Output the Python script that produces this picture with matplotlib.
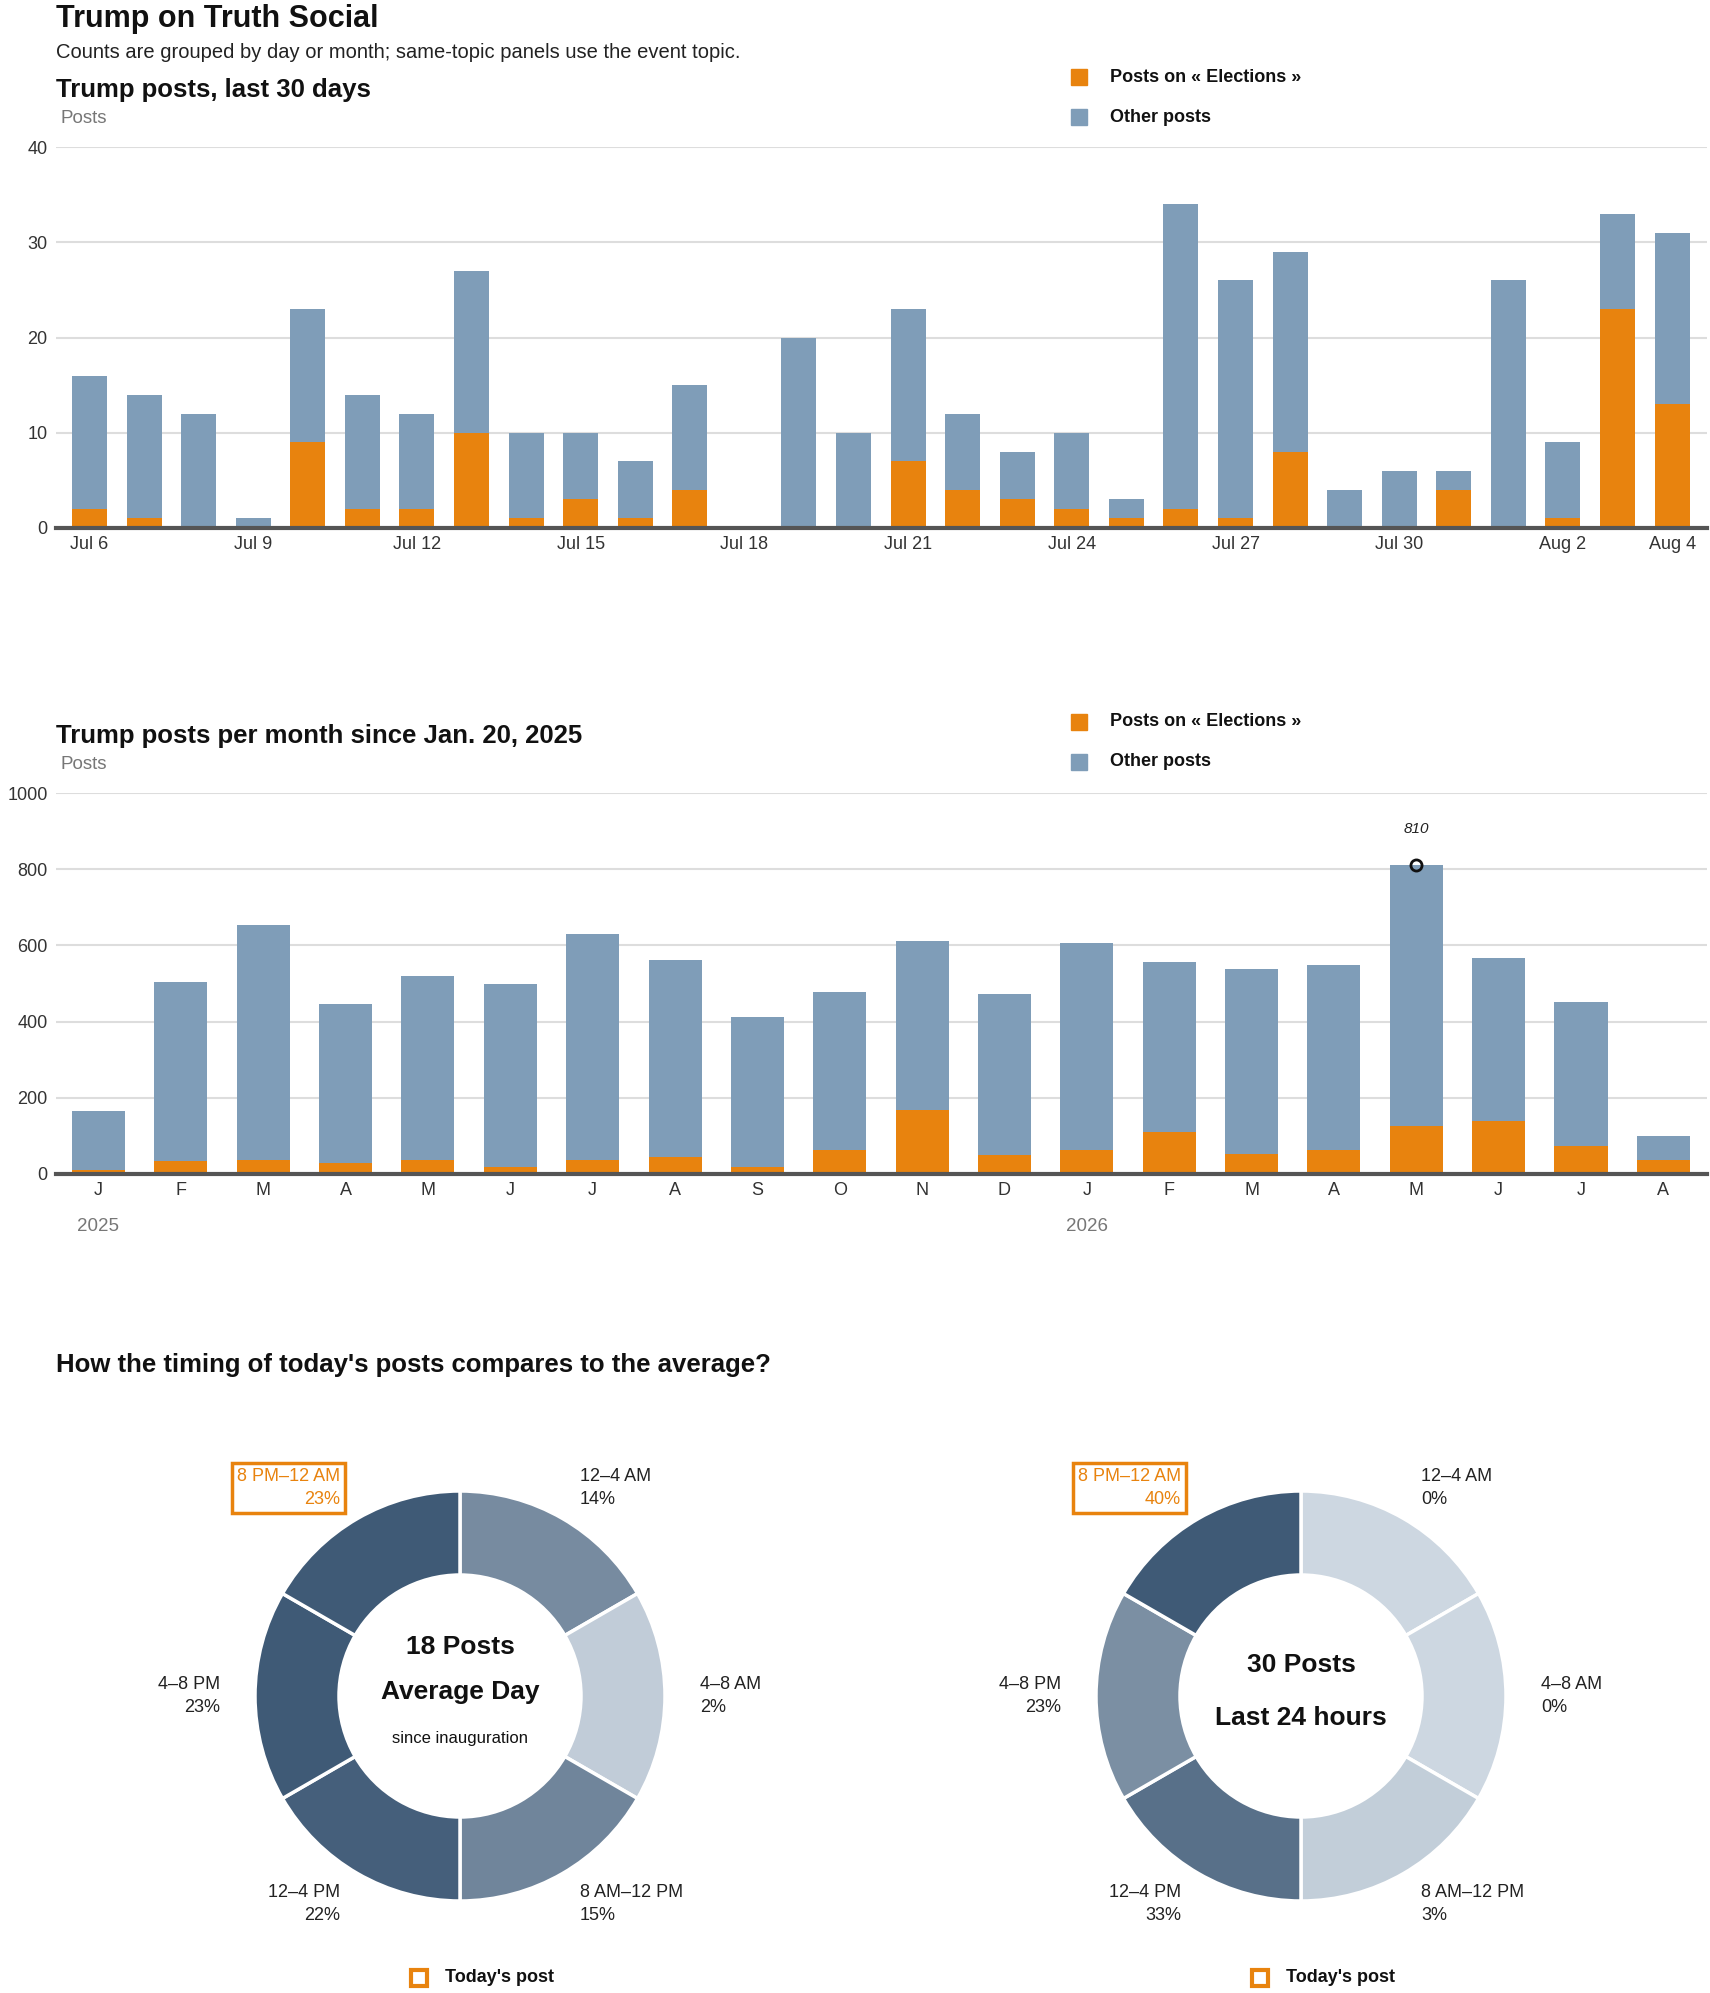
import numpy as np
import matplotlib
matplotlib.use('Agg')
import matplotlib.pyplot as plt
from matplotlib.patches import Rectangle
from matplotlib.colors import to_rgb

# --- Data ---
day_labels = ['Jul 6', 'Jul 9', 'Jul 12', 'Jul 15', 'Jul 18', 'Jul 21',
              'Jul 24', 'Jul 27', 'Jul 30', 'Aug 2', 'Aug 4']
day_label_idx = [0, 3, 6, 9, 12, 15, 18, 21, 24, 27, 29]
day_total = [16, 14, 12, 1, 23, 14, 12, 27, 10, 10, 7, 15, 0, 20, 10,
             23, 12, 8, 10, 3, 34, 26, 29, 4, 6, 6, 26, 9, 33, 31]
day_elect = [2, 1, 0, 0, 9, 2, 2, 10, 1, 3, 1, 4, 0, 0, 0,
             7, 4, 3, 2, 1, 2, 1, 8, 0, 0, 4, 0, 1, 23, 13]

month_labels = ['J', 'F', 'M', 'A', 'M', 'J', 'J', 'A', 'S', 'O', 'N', 'D',
                'J', 'F', 'M', 'A', 'M', 'J', 'J', 'A']
month_total = [165, 504, 654, 447, 520, 499, 630, 562, 412, 477, 612, 473,
               607, 556, 538, 549, 810, 568, 451, 99]
month_elect = [10, 34, 38, 30, 38, 19, 38, 45, 19, 63, 169, 51,
               64, 109, 53, 64, 126, 139, 73, 38]
year_labels = ['2025', '2026']
year_idx = [0, 12]

slot_names = ['12–4 AM', '4–8 AM', '8 AM–12 PM', '12–4 PM', '4–8 PM', '8 PM–12 AM']
avg_pct = [14, 2, 15, 22, 23, 23]
today_pct = [0, 0, 3, 33, 23, 40]
today_slot = 5

ORANGE = '#e8830e'
BLUE = '#7f9db8'
GRID = '#dddddd'
LIGHT = '#cdd7e1'
DARK = '#3f5a76'

plt.rcParams['font.family'] = ['Liberation Sans', 'DejaVu Sans']

W, H = 1710, 1993
fig = plt.figure(figsize=(W / 100, H / 100), dpi=100)


def fx(x):
    return x / W


def fy(y):
    return 1 - y / H


def rect(x0, y0, x1, y1):
    # pixel box (top-left origin) -> axes rect
    return [fx(x0), fy(y1), (x1 - x0) / W, (y1 - y0) / H]


def legend_block(y_top):
    fig.add_artist(Rectangle((fx(1071), fy(y_top + 8)), 16 / W, 16 / H,
                             transform=fig.transFigure, color=ORANGE))
    fig.text(fx(1110), fy(y_top), 'Posts on « Elections »', fontsize=13,
             fontweight='bold', color='#111', va='center')
    fig.add_artist(Rectangle((fx(1071), fy(y_top + 48)), 16 / W, 16 / H,
                             transform=fig.transFigure, color=BLUE))
    fig.text(fx(1110), fy(y_top + 40), 'Other posts', fontsize=13,
             fontweight='bold', color='#111', va='center')


def style_bar_axes(ax, ymax, step):
    ax.set_ylim(0, ymax)
    ax.set_yticks(np.arange(0, ymax + 1, step))
    ax.grid(axis='y', color=GRID, lw=1.5)
    ax.set_axisbelow(True)
    for s in ['top', 'right', 'left']:
        ax.spines[s].set_visible(False)
    ax.spines['bottom'].set_color('#555555')
    ax.spines['bottom'].set_linewidth(3)
    ax.tick_params(axis='both', length=0, labelsize=13, labelcolor='#333')
    ax.tick_params(axis='y', pad=6)
    ax.tick_params(axis='x', pad=6)


# --- Header ---
fig.text(fx(56), fy(27), 'Trump on Truth Social', fontsize=22, fontweight='bold',
         color='#111', va='baseline')
fig.text(fx(56), fy(58), 'Counts are grouped by day or month; same-topic panels use the event topic.',
         fontsize=14.5, color='#222', va='baseline')

# --- Daily chart ---
fig.text(fx(56), fy(97), 'Trump posts, last 30 days', fontsize=18.5, fontweight='bold',
         color='#111', va='baseline')
fig.text(fx(60), fy(123), 'Posts', fontsize=13.5, color='#777', va='baseline')
legend_block(77)

ax1 = fig.add_axes(rect(56, 147, 1707, 528))
x = np.arange(len(day_total))
day_other = [t - e for t, e in zip(day_total, day_elect)]
ax1.bar(x, day_elect, width=0.64, color=ORANGE)
ax1.bar(x, day_other, width=0.64, bottom=day_elect, color=BLUE)
ax1.set_xlim(-0.614, 29.64)
style_bar_axes(ax1, 40, 10)
ax1.set_xticks(day_label_idx)
ax1.set_xticklabels(day_labels)

# --- Monthly chart ---
fig.text(fx(56), fy(743), 'Trump posts per month since Jan. 20, 2025', fontsize=18.5,
         fontweight='bold', color='#111', va='baseline')
fig.text(fx(60), fy(769), 'Posts', fontsize=13.5, color='#777', va='baseline')
legend_block(722)

ax2 = fig.add_axes(rect(56, 793, 1707, 1174))
m = np.arange(len(month_total))
month_other = [t - e for t, e in zip(month_total, month_elect)]
ax2.bar(m, month_elect, width=0.644, color=ORANGE)
ax2.bar(m, month_other, width=0.644, bottom=month_elect, color=BLUE)
ax2.set_xlim(-0.516, 19.53)
style_bar_axes(ax2, 1000, 200)
ax2.set_xticks(m)
ax2.set_xticklabels(month_labels)

peak = int(np.argmax(month_total))
ax2.plot(peak, month_total[peak], 'o', ms=8, mfc='none', mec='#111', mew=2, clip_on=False)
ax2.annotate(str(month_total[peak]), (peak, month_total[peak]), xytext=(0, 26),
             textcoords='offset points', ha='center', va='center',
             fontsize=11, fontstyle='italic', color='#222')
for lab, i in zip(year_labels, year_idx):
    ax2.annotate(lab, (i, 0), xytext=(0, -38), textcoords='offset points',
                 ha='center', va='center', fontsize=13.5, color='#777')

# --- Donuts ---
fig.text(fx(56), fy(1372), "How the timing of today's posts compares to the average?",
         fontsize=18.5, fontweight='bold', color='#111', va='baseline')


def shade(p, pmax):
    a = np.array(to_rgb(LIGHT))
    b = np.array(to_rgb(DARK))
    t = p / pmax if pmax else 0
    return tuple(a + (b - a) * t)


def donut(cx, cy, pcts, center_lines):
    half = 320
    ax = fig.add_axes(rect(cx - half, cy - half, cx + half, cy + half))
    pmax = max(pcts)
    cols = [shade(p, pmax) for p in pcts]
    ax.pie([1] * len(pcts), radius=205, startangle=90, counterclock=False,
           colors=cols, wedgeprops=dict(width=84, edgecolor='white', linewidth=2.5))
    # pie resets the limits, so set them afterwards
    ax.set_xlim(-half, half)
    ax.set_ylim(-half, half)
    ax.set_aspect('equal')
    ax.axis('off')
    n = len(pcts)
    for k, (name, p) in enumerate(zip(slot_names, pcts)):
        ang = np.deg2rad(90 - (k + 0.5) * 360 / n)
        lx, ly = 240 * np.cos(ang), 240 * np.sin(ang)
        ha = 'left' if lx > 0 else 'right'
        if k == today_slot:
            ax.text(lx, ly, f'{name}\n{p}%', ha=ha, va='center', fontsize=13,
                    color=ORANGE, linespacing=1.5, multialignment='right',
                    bbox=dict(boxstyle='square,pad=0.25', fc='none', ec=ORANGE, lw=2.5))
        else:
            ax.text(lx, ly, f'{name}\n{p}%', ha=ha, va='center', fontsize=13,
                    color='#222', linespacing=1.5, multialignment=ha)
    for txt, dy, size, weight in center_lines:
        ax.text(0, dy, txt, ha='center', va='center', fontsize=size,
                fontweight=weight, color='#111')
    # legend
    fig.add_artist(Rectangle((fx(cx - 49), fy(cy + 290)), 16 / W, 16 / H,
                             transform=fig.transFigure, fc='none', ec=ORANGE, lw=3))
    fig.text(fx(cx - 15), fy(cy + 281), "Today's post", fontsize=13,
             fontweight='bold', color='#111', va='center')


donut(460, 1696, avg_pct, [('18 Posts', 49, 19, 'bold'),
                           ('Average Day', 4, 19, 'bold'),
                           ('since inauguration', -43, 12, 'normal')])
donut(1301, 1696, today_pct, [('30 Posts', 31, 19, 'bold'),
                              ('Last 24 hours', -22, 19, 'bold')])

fig.savefig('out.png', dpi=100, facecolor='white')
